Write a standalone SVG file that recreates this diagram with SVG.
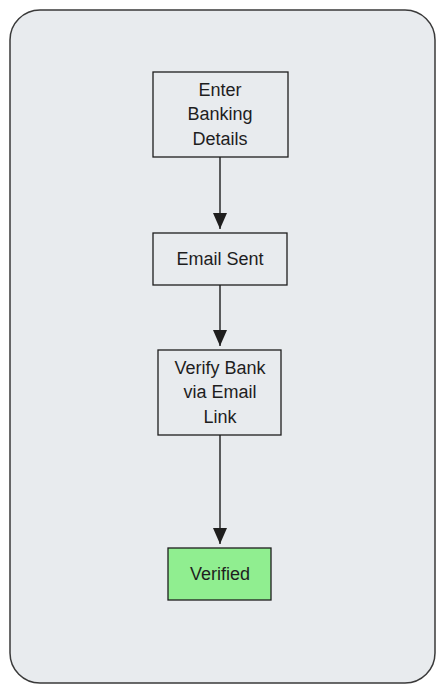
<svg xmlns="http://www.w3.org/2000/svg" width="445" height="693" viewBox="0 0 445 693">
<defs>
<style>
.node rect{stroke:#1e1e1e;stroke-width:1.3;}
.node text{font-family:"Liberation Sans","DejaVu Sans",sans-serif;font-size:18px;fill:#1e1e1e;text-anchor:middle;dominant-baseline:central;}
.edge{stroke:#1e1e1e;stroke-width:1.4;fill:none;marker-end:url(#arrow);}
</style>
<marker id="arrow" viewBox="0 0 16 14" refX="16" refY="7" markerWidth="16" markerHeight="14" markerUnits="userSpaceOnUse" orient="auto">
<path d="M0,0 L16,7 L0,14 Z" fill="#1e1e1e"/>
</marker>
</defs>
<rect x="10" y="10" width="425" height="673" rx="30" ry="30" fill="#e8ebee" stroke="#3a3a3a" stroke-width="1.5"/>
<g id="connectors">
<line class="edge" x1="220" y1="157" x2="220" y2="229"/>
<line class="edge" x1="220" y1="285" x2="220" y2="346"/>
<line class="edge" x1="220" y1="435" x2="220" y2="544"/>
</g>
<g id="node-enter" class="node">
<rect x="153" y="72" width="135" height="85" fill="#e8ebee"/>
<text x="220" y="90">Enter</text>
<text x="220" y="114">Banking</text>
<text x="220" y="139">Details</text>
</g>
<g id="node-email" class="node">
<rect x="153" y="233" width="134" height="52" fill="#e8ebee"/>
<text x="220" y="259">Email Sent</text>
</g>
<g id="node-verify" class="node">
<rect x="158" y="350" width="123" height="85" fill="#e8ebee"/>
<text x="220" y="368">Verify Bank</text>
<text x="220" y="392">via Email</text>
<text x="220" y="417">Link</text>
</g>
<g id="node-verified" class="node">
<rect x="168" y="548" width="103" height="52" fill="#90ee90"/>
<text x="220" y="574">Verified</text>
</g>
</svg>
